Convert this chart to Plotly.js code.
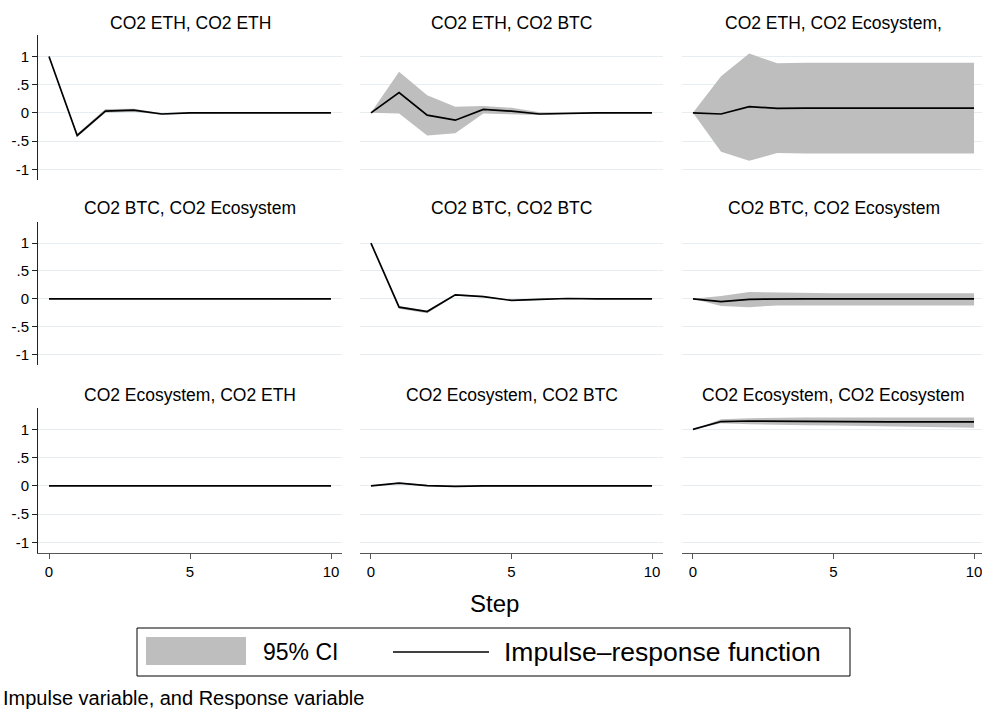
<!DOCTYPE html>
<html>
<head>
<meta charset="utf-8">
<script src="https://cdn.plot.ly/plotly-3.0.1.min.js"></script>
<style>
html,body{margin:0;padding:0;overflow:hidden;background:#fff;}
#chart{width:992px;height:711px;}
</style>
</head>
<body>
<div id="chart"></div>
<script>
// ---- data ----
const steps = [0,1,2,3,4,5,6,7,8,9,10];
const panelTitles = [
  "CO2 ETH, CO2 ETH", "CO2 ETH, CO2 BTC", "CO2 ETH, CO2 Ecosystem,",
  "CO2 BTC, CO2 Ecosystem", "CO2 BTC, CO2 BTC", "CO2 BTC, CO2 Ecosystem",
  "CO2 Ecosystem, CO2 ETH", "CO2 Ecosystem, CO2 BTC", "CO2 Ecosystem, CO2 Ecosystem"
];
const yTickVals = [-1,-0.5,0,0.5,1];
const yTickText = ["-1","-.5","0",".5","1"];
const xTickVals = [0,5,10];
const xTickText = ["0","5","10"];

const irf_eth_eth = [1,-0.40,0.03,0.05,-0.02,0.00,0.00,0.00,0.00,0.00,0.00];
const lo_eth_eth  = [1,-0.43,0.00,0.02,-0.035,-0.01,-0.005,0,0,0,0];
const hi_eth_eth  = [1,-0.37,0.07,0.075,-0.005,0.01,0.005,0,0,0,0];

const irf_eth_btc = [0,0.36,-0.04,-0.13,0.06,0.03,-0.02,-0.005,0,0,0];
const lo_eth_btc  = [0,-0.01,-0.40,-0.36,-0.01,-0.03,-0.04,-0.02,-0.01,-0.005,-0.005];
const hi_eth_btc  = [0,0.73,0.31,0.11,0.12,0.09,0.01,0.005,0.005,0.005,0.005];

const irf_eth_eco = [0,-0.02,0.11,0.08,0.085,0.085,0.085,0.085,0.085,0.085,0.085];
const lo_eth_eco  = [0,-0.69,-0.85,-0.71,-0.72,-0.73,-0.73,-0.73,-0.73,-0.72,-0.72];
const hi_eth_eco  = [0,0.65,1.05,0.88,0.89,0.89,0.89,0.89,0.89,0.89,0.89];

const irf_btc_eth = [0,0.005,0,-0.002,0,0,0,0,0,0,0];
const lo_btc_eth  = [0,-0.005,-0.008,-0.01,-0.008,-0.008,-0.008,-0.008,-0.008,-0.008,-0.008];
const hi_btc_eth  = [0,0.015,0.008,0.006,0.008,0.008,0.008,0.008,0.008,0.008,0.008];

const irf_btc_btc = [1,-0.15,-0.23,0.07,0.04,-0.03,-0.01,0.005,0,0,0];
const lo_btc_btc  = [1,-0.18,-0.26,0.055,0.03,-0.04,-0.02,0,-0.005,-0.005,-0.005];
const hi_btc_btc  = [1,-0.13,-0.21,0.085,0.05,-0.02,0,0.01,0.005,0.005,0.005];

const irf_btc_eco = [0,-0.05,-0.01,0,0,0,0,0,0,0,0];
const lo_btc_eco  = [0,-0.13,-0.15,-0.12,-0.11,-0.11,-0.12,-0.12,-0.12,-0.12,-0.12];
const hi_btc_eco  = [0,0.05,0.12,0.11,0.10,0.10,0.10,0.10,0.10,0.10,0.10];

const irf_eco_eth = [0,0.005,0,0,0,0,0,0,0,0,0];
const lo_eco_eth  = [0,-0.004,-0.006,-0.006,-0.006,-0.006,-0.006,-0.006,-0.006,-0.006,-0.006];
const hi_eco_eth  = [0,0.012,0.006,0.006,0.006,0.006,0.006,0.006,0.006,0.006,0.006];

const irf_eco_btc = [0,0.05,0.005,-0.01,0,0,0,0,0,0,0];
const lo_eco_btc  = [0,0.04,-0.005,-0.02,-0.008,-0.008,-0.008,-0.008,-0.008,-0.008,-0.008];
const hi_eco_btc  = [0,0.06,0.015,0,0.008,0.008,0.008,0.008,0.008,0.008,0.008];

const irf_eco_eco = [1,1.14,1.15,1.145,1.14,1.14,1.14,1.135,1.135,1.135,1.135];
const lo_eco_eco  = [1,1.11,1.09,1.08,1.075,1.07,1.065,1.06,1.05,1.04,1.03];
const hi_eco_eco  = [1,1.18,1.20,1.21,1.21,1.21,1.21,1.21,1.21,1.21,1.21];

const irfs = [irf_eth_eth, irf_eth_btc, irf_eth_eco, irf_btc_eth, irf_btc_btc, irf_btc_eco, irf_eco_eth, irf_eco_btc, irf_eco_eco];
const los  = [lo_eth_eth, lo_eth_btc, lo_eth_eco, lo_btc_eth, lo_btc_btc, lo_btc_eco, lo_eco_eth, lo_eco_btc, lo_eco_eco];
const his  = [hi_eth_eth, hi_eth_btc, hi_eth_eco, hi_btc_eth, hi_btc_btc, hi_btc_eco, hi_eco_eth, hi_eco_btc, hi_eco_eco];

// ---- layout geometry (pixels) ----
const W = 992, H = 711;
const colPx = [[38,342],[360,663],[682,985]];
const rowPx = [[35,180],[222,365],[408,553]];
const titleY = [23,208,395];
const FONT = "Liberation Sans, Arial, Helvetica, sans-serif";
const px = v => v / W;
const py = v => 1 - v / H;

const traces = [];
const layout = {
  width: W, height: H,
  margin: {l:0, r:0, t:0, b:0},
  paper_bgcolor: "#ffffff", plot_bgcolor: "#ffffff",
  showlegend: false,
  font: {family: FONT, color: "#000"},
  annotations: [], shapes: []
};

for (let i = 0; i < 9; i++) {
  const r = Math.floor(i / 3), c = i % 3;
  const n = i === 0 ? "" : String(i + 1);
  const xa = "x" + n, ya = "y" + n;
  // CI band
  traces.push({
    x: steps.concat(steps.slice().reverse()),
    y: his[i].concat(los[i].slice().reverse()),
    xaxis: xa, yaxis: ya, type: "scatter", mode: "lines",
    fill: "toself", fillcolor: "rgb(190,190,190)",
    line: {width: 0, color: "rgba(0,0,0,0)"}, hoverinfo: "skip"
  });
  // IRF line
  traces.push({
    x: steps, y: irfs[i], xaxis: xa, yaxis: ya, type: "scatter", mode: "lines",
    line: {color: "#000", width: 1.7}
  });
  layout["xaxis" + n] = {
    domain: [px(colPx[c][0]), px(colPx[c][1])],
    anchor: ya, range: [-0.39, 10.39],
    showgrid: false, zeroline: false,
    tickvals: xTickVals, ticktext: xTickText,
    showline: r === 2, linecolor: "#555", linewidth: 1,
    ticks: r === 2 ? "outside" : "", ticklen: 5, tickcolor: "#555",
    showticklabels: r === 2,
    tickfont: {family: FONT, size: 15, color: "#000"}
  };
  layout["yaxis" + n] = {
    domain: [py(rowPx[r][1]), py(rowPx[r][0])],
    anchor: xa, range: [-1.19, 1.38],
    tickvals: yTickVals, ticktext: yTickText,
    showgrid: true, gridcolor: "#e6eef1", gridwidth: 1, zeroline: false,
    showline: c === 0, linecolor: "#222", linewidth: 1,
    ticks: c === 0 ? "outside" : "", ticklen: 5, tickcolor: "#222",
    showticklabels: c === 0,
    tickfont: {family: FONT, size: 15, color: "#000"}
  };
  layout.annotations.push({
    text: panelTitles[i], xref: "paper", yref: "paper",
    x: px((colPx[c][0] + colPx[c][1]) / 2), y: py(titleY[r]),
    xanchor: "center", yanchor: "middle", showarrow: false,
    font: {family: FONT, size: 17.5, color: "#000"}
  });
}

// x-axis title "Step"
layout.annotations.push({
  text: "Step", xref: "paper", yref: "paper", x: px(494), y: py(603),
  xanchor: "center", yanchor: "middle", showarrow: false,
  font: {family: FONT, size: 24, color: "#000"}
});

// legend (drawn as layout decoration)
layout.shapes.push({type: "rect", xref: "paper", yref: "paper",
  x0: px(137), x1: px(850), y0: py(676), y1: py(628),
  line: {color: "#000", width: 1}, fillcolor: "#fff"});
layout.shapes.push({type: "rect", xref: "paper", yref: "paper",
  x0: px(146), x1: px(246), y0: py(665), y1: py(637),
  line: {width: 0}, fillcolor: "rgb(190,190,190)"});
layout.shapes.push({type: "line", xref: "paper", yref: "paper",
  x0: px(393), x1: px(489), y0: py(652), y1: py(652),
  line: {color: "#000", width: 1.7}});
layout.annotations.push({
  text: "95% CI", xref: "paper", yref: "paper", x: px(261), y: py(652),
  xanchor: "left", yanchor: "middle", showarrow: false,
  font: {family: FONT, size: 23, color: "#000"}
});
layout.annotations.push({
  text: "Impulse\u2013response function", xref: "paper", yref: "paper", x: px(502), y: py(652),
  xanchor: "left", yanchor: "middle", showarrow: false,
  font: {family: FONT, size: 26.5, color: "#000"}
});
// note
layout.annotations.push({
  text: "Impulse variable, and Response variable", xref: "paper", yref: "paper", x: px(1), y: py(698),
  xanchor: "left", yanchor: "middle", showarrow: false,
  font: {family: FONT, size: 20, color: "#000"}
});

Plotly.newPlot("chart", traces, layout, {staticPlot: true, displayModeBar: false});
</script>
</body>
</html>
